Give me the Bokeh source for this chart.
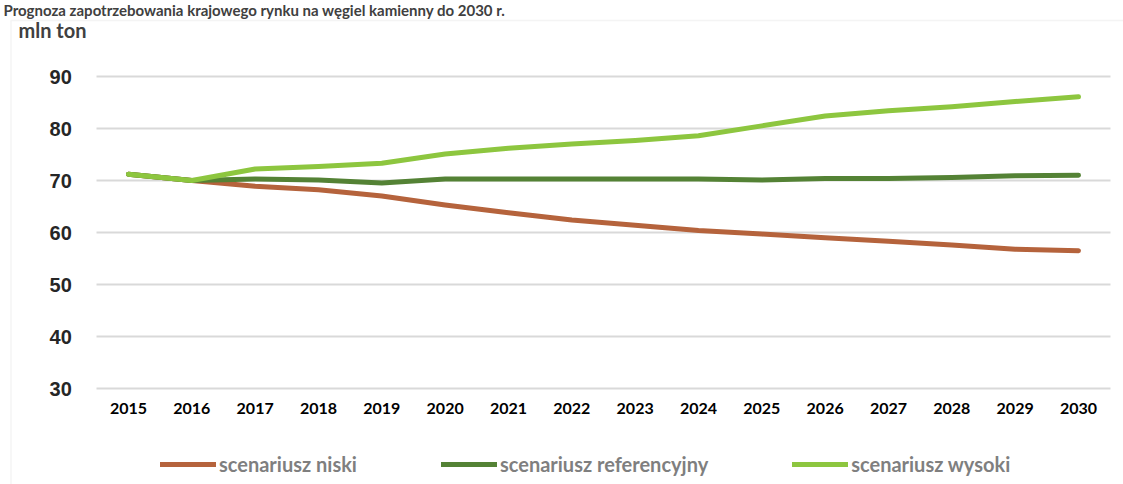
from bokeh.plotting import figure
from bokeh.models import Range1d, FixedTicker, Legend, LegendItem, Label, BoxAnnotation
from bokeh.embed import file_html
from bokeh.resources import INLINE

years = list(range(2015, 2031))
low = [71.2, 70.0, 68.9, 68.2, 67.0, 65.3, 63.8, 62.4, 61.4, 60.4, 59.7, 59.0, 58.3, 57.6, 56.8, 56.5]
ref = [71.2, 70.0, 70.3, 70.1, 69.5, 70.3, 70.3, 70.3, 70.3, 70.3, 70.1, 70.4, 70.4, 70.6, 70.9, 71.0]
high = [71.2, 70.0, 72.2, 72.7, 73.3, 75.1, 76.2, 77.0, 77.7, 78.6, 80.5, 82.4, 83.4, 84.2, 85.2, 86.1]
names = ["scenariusz niski", "scenariusz referencyjny", "scenariusz wysoki"]
colors = ["#B5633C", "#548235", "#8DC63F"]
yticks = [30, 40, 50, 60, 70, 80, 90]
title = "Prognoza zapotrzebowania krajowego rynku na węgiel kamienny do 2030 r."
unit = "mln ton"
GRID = "#D9D9D9"

# ---- layout: page-pixel geometry of the reference, converted through the axes' scales
X_PX0, X_STEP = 128.0, 950.0 / 15      # page x of first category, px per category
Y_PX0, Y_STEP = 180.0, 5.2             # page y of value 70, px per unit
def X(px):
    return years[0] + (px - X_PX0) / X_STEP
def Y(py):
    return 70 - (py - Y_PX0) / Y_STEP

LEFT, TOP, RIGHT, BOTTOM = 0, 0, 1123, 484   # canvas on the page
p = figure(width=RIGHT - LEFT, height=BOTTOM - TOP, output_backend="svg", toolbar_location=None,
           x_range=Range1d(X(LEFT), X(RIGHT)), y_range=Range1d(Y(BOTTOM), Y(TOP)),
           min_border=0, min_border_left=0, min_border_right=0, min_border_top=0, min_border_bottom=0)
p.outline_line_color = None
p.xgrid.grid_line_color = None
p.ygrid.grid_line_color = GRID
p.ygrid.grid_line_width = 2
p.ygrid.ticker = FixedTicker(ticks=yticks)
x_lo, x_hi = years[0] - 0.5, years[-1] + 0.5
try:
    p.ygrid.cross_bounds = (x_lo, x_hi)
except Exception:
    pass

p.yaxis.ticker = FixedTicker(ticks=yticks)
p.xaxis.ticker = FixedTicker(ticks=years)
p.yaxis.fixed_location = x_lo
p.xaxis.fixed_location = yticks[0]
for ax in (p.xaxis[0], p.yaxis[0]):
    ax.axis_line_color = None
    ax.major_tick_line_color = None
    ax.minor_tick_line_color = None
    ax.major_tick_out = 0
    ax.major_tick_in = 0
p.yaxis.major_label_text_font = "Liberation Sans"
p.yaxis.major_label_text_font_style = "bold"
p.yaxis.major_label_text_font_size = "20px"
p.yaxis.major_label_text_color = "#262626"
p.yaxis.major_label_standoff = 25
p.xaxis.major_label_text_font = "Lato"
p.xaxis.major_label_text_font_style = "bold"
p.xaxis.major_label_text_font_size = "16px"
p.xaxis.major_label_text_color = "#000000"
p.xaxis.major_label_standoff = 14

items = []
for vals, name, col in zip([low, ref, high], names, colors):
    r = p.line(years, vals, line_color=col, line_width=5, line_cap="round", line_join="round")
    items.append(LegendItem(label=name, renderers=[r]))

legend = Legend(items=items, orientation="horizontal", location=(160 - LEFT, BOTTOM - 476),
                padding=0, margin=0, spacing=84, glyph_width=56, glyph_height=20,
                label_standoff=3, border_line_color=None, background_fill_alpha=0,
                label_text_font="Lato", label_text_font_style="bold",
                label_text_font_size="20px", label_text_color="#7F7F7F")
p.add_layout(legend)

# chart-area border (left and top edges; right/bottom fall outside the canvas)
p.add_layout(BoxAnnotation(left=X(10.5), right=X(1400), top=Y(20), bottom=Y(700),
                           fill_alpha=0, line_color=GRID, line_width=1.5))

p.add_layout(Label(x=X(3), y=Y(9), text=title, text_font="Lato", text_font_style="bold",
                   text_font_size="15px", text_color="#404040",
                   text_baseline="middle", text_align="left"))
p.add_layout(Label(x=X(18), y=Y(29), text=unit, text_font="Lato", text_font_style="bold",
                   text_font_size="20px", text_color="#404040",
                   text_baseline="middle", text_align="left"))

open("out.html", "w").write(file_html(p, INLINE))
